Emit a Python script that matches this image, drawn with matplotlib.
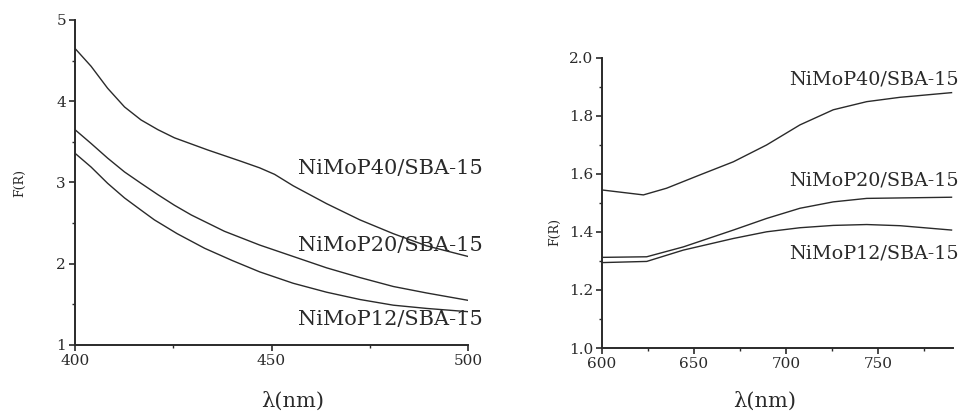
import numpy as np
import matplotlib.pyplot as plt
from matplotlib.ticker import MultipleLocator

# Venstre panel: 400-500 nm
wl40_left = [400, 404.1, 408.3, 412.6, 416.8, 421.1, 425.3, 433.8, 442.3, 447, 450.8,
             455.5, 464, 472.5, 481, 489.5, 500]
p40_left = [4.65, 4.43, 4.16, 3.93, 3.77, 3.65, 3.55, 3.40, 3.26, 3.18, 3.10,
            2.96, 2.74, 2.54, 2.37, 2.22, 2.09]
wl20_left = [400, 404.1, 408.3, 412.6, 416.8, 421.1, 425.3, 429.6, 438, 447,
             455.5, 464, 472.5, 481, 489.5, 500]
p20_left = [3.65, 3.48, 3.30, 3.13, 2.99, 2.85, 2.72, 2.60, 2.40, 2.23,
            2.09, 1.95, 1.83, 1.72, 1.64, 1.55]
wl12_left = [400, 404.1, 408.3, 412.6, 416.8, 420.2, 426, 433, 440, 447,
             455.5, 464, 472.5, 481, 489.5, 500]
p12_left = [3.36, 3.19, 2.99, 2.81, 2.66, 2.54, 2.37, 2.19, 2.04, 1.90,
            1.76, 1.65, 1.56, 1.49, 1.45, 1.41]

# Højre panel: 600-790 nm
wl40_right = [600, 622.5, 635.1, 653.3, 671.4, 689.5, 707.6, 725.7, 743.9, 762, 790]
p40_right = [1.544, 1.527, 1.550, 1.596, 1.641, 1.699, 1.768, 1.820, 1.848, 1.863, 1.879]
wl20_right = [600, 624.3, 644.2, 671.4, 689.5, 707.6, 725.7, 743.9, 790]
p20_right = [1.312, 1.314, 1.348, 1.406, 1.446, 1.481, 1.503, 1.515, 1.519]
wl12_right = [600, 624.3, 644.2, 671.4, 689.5, 707.6, 725.7, 743.9, 762, 790]
p12_right = [1.294, 1.298, 1.337, 1.377, 1.400, 1.414, 1.422, 1.425, 1.421, 1.406]

labels = ["NiMoP40/SBA-15", "NiMoP20/SBA-15", "NiMoP12/SBA-15"]
label_y_left = [3.17, 2.23, 1.31]
label_y_right = [1.923, 1.578, 1.326]

plt.rcParams['font.family'] = 'DejaVu Serif'
ink = '#2a2a2a'

fig = plt.figure(figsize=(9.63, 4.17), dpi=100)
ax1 = fig.add_axes([75 / 963, 72 / 417, 393 / 963, 325 / 417])
ax2 = fig.add_axes([602 / 963, 69 / 417, 351 / 963, 290.5 / 417])

for ax in (ax1, ax2):
    for s in ('top', 'right'):
        ax.spines[s].set_visible(False)
    for s in ('left', 'bottom'):
        ax.spines[s].set_linewidth(1.4)
        ax.spines[s].set_color(ink)
    ax.tick_params(which='major', direction='out', length=4, width=1.2,
                   labelsize=11, colors=ink, pad=2.5)
    ax.tick_params(which='minor', direction='out', length=2.5, width=1.0, colors=ink)
    ax.patch.set_alpha(0)

ax1.plot(wl40_left, p40_left, color=ink, lw=1.0)
ax1.plot(wl20_left, p20_left, color=ink, lw=1.0)
ax1.plot(wl12_left, p12_left, color=ink, lw=1.0)
ax1.set_xlim(400, 500)
ax1.set_ylim(1, 5)
ax1.xaxis.set_major_locator(MultipleLocator(50))
ax1.xaxis.set_minor_locator(MultipleLocator(25))
ax1.yaxis.set_major_locator(MultipleLocator(1))
ax1.yaxis.set_minor_locator(MultipleLocator(0.5))
for lab, yv in zip(labels, label_y_left):
    ax1.text(503.8, yv, lab, ha='right', va='center', fontsize=15, color=ink, clip_on=False)

ax2.plot(wl40_right, p40_right, color=ink, lw=1.0)
ax2.plot(wl20_right, p20_right, color=ink, lw=1.0)
ax2.plot(wl12_right, p12_right, color=ink, lw=1.0)
ax2.set_xlim(600, 790.8)
ax2.set_ylim(1.0, 2.0)
ax2.xaxis.set_major_locator(MultipleLocator(50))
ax2.xaxis.set_minor_locator(MultipleLocator(25))
ax2.yaxis.set_major_locator(MultipleLocator(0.2))
ax2.yaxis.set_minor_locator(MultipleLocator(0.1))
ax2.yaxis.set_major_formatter(plt.FormatStrFormatter('%.1f'))
for lab, yv in zip(labels, label_y_right):
    ax2.text(794, yv, lab, ha='right', va='center', fontsize=13.8, color=ink, clip_on=False)

# aksetitler
fig.text(20 / 963, 1 - 183 / 417, "F(R)", rotation=90, ha='center', va='center',
         fontsize=9, color=ink)
fig.text(555 / 963, 1 - 232 / 417, "F(R)", rotation=90, ha='center', va='center',
         fontsize=9, color=ink)
fig.text(293 / 963, 1 - 401 / 417, "λ(nm)", ha='center', va='center',
         fontsize=15, color=ink)
fig.text(765 / 963, 1 - 401 / 417, "λ(nm)", ha='center', va='center',
         fontsize=15, color=ink)

fig.savefig("out.png", dpi=100)
